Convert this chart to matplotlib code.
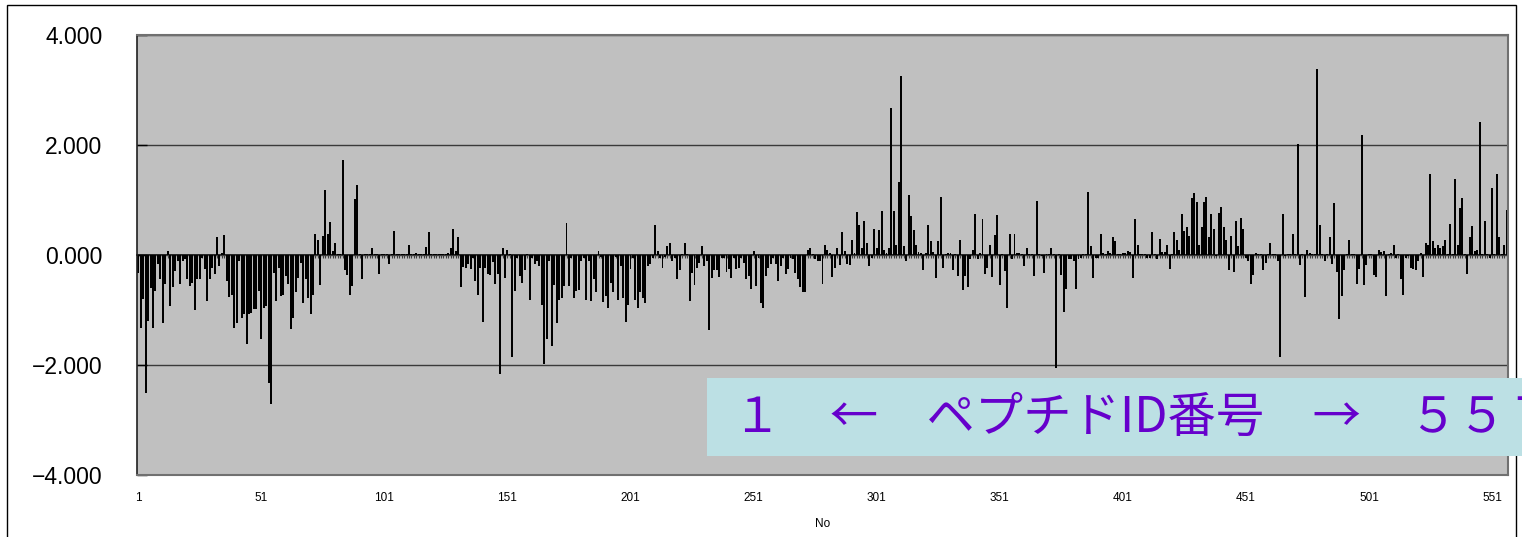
import numpy as np
import matplotlib
matplotlib.use("Agg")
import matplotlib.pyplot as plt
from matplotlib.patches import Rectangle

plt.rcParams['font.family'] = ['Liberation Sans', 'Noto Sans CJK JP', 'DejaVu Sans']

# スコア (ペプチドID 1 ～ 557)
scores_001 = [-0.32, -1.32, -0.80, -2.50, -1.20, -0.60, -1.32, -0.65, -0.17, -0.44,
              -1.23, -0.53, 0.07, -0.93, -0.59, -0.29, -0.11, -0.52, -0.11, -0.08,
              -0.44, -0.56, -0.50, -1.00, -0.44, -0.44, -0.05, -0.26, -0.84, -0.44,
              -0.23, -0.35, 0.32, -0.20, 0.04, 0.36, -0.47, -0.76, -0.72, -1.32,
              -1.23, -0.11, -1.14, -1.08, -1.62, -1.08, -1.05, -0.99, -0.99, -0.65,
              -1.53, -0.96, -0.93, -2.32]
scores_055 = [-2.70, -0.32, -0.84, -0.23, -0.75, -0.72, -0.38, -0.52, -1.35, -1.14,
              -0.68, -0.41, -0.14, -0.87, -0.44, -0.79, -1.08, -0.72, 0.38, 0.28,
              -0.55, 0.35, 1.19, 0.38, 0.60, 0.07, 0.21, 0.02, 0.02, 1.73,
              -0.28, -0.36, -0.72, -0.56, 1.01, 1.28, 0.02, -0.44, 0.02, 0.02,
              0.02, 0.12, 0.02, 0.02, -0.35, 0.02, 0.02, 0.02, -0.17, 0.02,
              0.44, 0.02, 0.02, 0.02, 0.02, 0.02]
scores_111 = [0.19, 0.02, 0.02, 0.03, 0.02, 0.02, 0.02, 0.15, 0.42, 0.02,
              0.02, 0.02, 0.02, 0.02, 0.02, 0.02, 0.04, 0.13, 0.47, 0.08,
              0.33, -0.59, -0.22, -0.24, -0.16, -0.26, -0.05, -0.47, -0.73, -0.23,
              -1.21, -0.23, -0.35, -0.36, -0.12, -0.52, -0.34, -2.17, 0.12, -0.42,
              0.09, 0.02, -1.85, -0.65, -0.05, -0.38, -0.50, -0.28, 0.02, -0.81,
              -0.05, -0.17, -0.11, -0.20, -0.90, -1.98]
scores_167 = [-1.53, -0.11, -1.65, -0.55, -1.24, -0.81, -0.79, -0.56, 0.58, -0.56,
              -0.05, -0.79, -0.65, -0.64, -0.11, -0.05, -0.81, -0.11, -0.84, -0.44,
              -0.67, 0.08, -0.03, -0.85, -0.75, -0.97, -0.50, -0.67, -0.03, -0.81,
              -0.20, -0.79, -1.21, -0.91, -0.26, -0.05, -0.82, -0.97, -0.68, -0.79,
              -0.87, -0.20, -0.16, -0.06, 0.55, 0.07, -0.05, -0.23, -0.03, 0.16,
              0.22, -0.11, -0.05, -0.44, -0.28, 0.02]
scores_223 = [0.22, 0.02, -0.84, -0.32, -0.55, -0.24, -0.14, 0.16, -0.20, -0.11,
              -1.37, -0.42, -0.28, -0.28, -0.40, -0.05, -0.06, -0.30, -0.26, -0.41,
              -0.05, -0.26, -0.23, -0.05, -0.14, -0.44, -0.38, -0.62, 0.08, -0.56,
              -0.05, -0.88, -0.97, -0.38, -0.23, -0.17, -0.06, -0.17, -0.47, -0.20,
              -0.05, -0.35, -0.26, -0.05, -0.08, -0.32, -0.44, -0.59, -0.68, -0.68,
              0.10, 0.13, 0.02, -0.08, -0.11]
scores_278 = [-0.11, -0.52, 0.19, 0.10, 0.03, -0.40, -0.23, 0.13, -0.18, 0.42,
              0.08, -0.16, -0.18, 0.27, 0.04, 0.79, 0.55, 0.12, 0.62, 0.21,
              -0.20, -0.05, 0.48, 0.13, 0.45, 0.80, 0.10, 0.04, 0.13, 2.68,
              0.80, 0.18, 1.32, 3.25, 0.16, -0.11, 1.09, 0.71, 0.45, 0.19,
              0.06, 0.04, -0.28, 0.04, 0.55, 0.25, 0.06, -0.42, 0.25, 1.05,
              -0.23, 0.02, 0.04, 0.04, -0.28, 0.02, -0.38]
scores_335 = [0.27, -0.64, -0.38, -0.58, -0.08, 0.10, 0.74, -0.08, 0.04, 0.66,
              -0.35, -0.24, 0.19, -0.40, 0.36, 0.72, -0.55, 0.02, -0.29, -0.96,
              0.39, -0.08, 0.38, 0.04, 0.04, 0.02, -0.20, 0.12, 0.02, 0.02,
              -0.39, 0.98, 0.02, -0.02, -0.32, 0.02, 0.02, 0.12, 0.02, -2.05,
              0.02, -0.36, -1.03, -0.62, -0.08, -0.08, -0.11, -0.62, -0.08, -0.05,
              0.01, 0.01, 1.15, 0.16, -0.41]
scores_390 = [-0.05, -0.05, 0.38, 0.04, 0.02, 0.07, 0.04, 0.33, 0.25, 0.02,
              0.02, 0.04, 0.04, 0.08, 0.06, -0.42, 0.65, 0.18, 0.02, 0.01,
              0.02, -0.06, -0.06, 0.42, 0.02, -0.07, 0.30, 0.06, 0.06, 0.19,
              -0.26, 0.02, 0.41, 0.28, 0.10, 0.75, 0.44, 0.51, 0.35, 1.04,
              1.12, 0.97, 0.18, 0.51, 0.97, 1.05, 0.33, 0.75, 0.48, -0.02,
              0.77, 0.88, 0.51, 0.27, -0.28, 0.35, -0.30, 0.62]
scores_448 = [0.16, 0.68, 0.48, -0.05, -0.11, -0.52, -0.36, 0.04, 0.02, 0.02,
              -0.28, -0.14, 0.02, 0.21, 0.02, 0.02, -0.10, -1.85, 0.75, -0.02,
              0.01, 0.01, 0.39, 0.01, 2.02, -0.18, 0.02, -0.76, 0.10, 0.04,
              0.02, 0.02, 3.38, 0.55, 0.02, -0.11, 0.02, 0.33, -0.16, 0.95,
              -0.30, -1.17, -0.75, -0.28, 0.02, 0.27, 0.02, 0.02, -0.52, -0.26,
              2.19, -0.55, -0.18, 0.01, 0.02]
scores_503 = [-0.36, -0.40, 0.10, 0.06, 0.08, -0.75, 0.02, 0.04, 0.19, -0.05,
              0.02, -0.44, -0.73, -0.05, -0.01, -0.24, -0.26, -0.28, -0.11, 0.04,
              -0.40, 0.21, 0.18, 1.48, 0.25, 0.12, 0.18, 0.13, 0.16, 0.27,
              0.02, 0.57, 0.02, 1.39, 0.19, 0.85, 1.03, 0.02, -0.35, 0.32,
              0.53, 0.08, 0.10, 2.42, 0.02, 0.62, 0.02, -0.05, 1.22, 0.02,
              1.48, 0.32, 0.02, 0.18, 0.81]

scores = np.array(scores_001 + scores_055 + scores_111 + scores_167 + scores_223
                  + scores_278 + scores_335 + scores_390 + scores_448 + scores_503)
peptide_no = np.arange(1, len(scores) + 1)

x_ticks = list(range(1, 557, 50))
y_ticks = [-4, -2, 0, 2, 4]
note_text = "１　←　ペプチドID番号　→　５５７"

W, H = 1522, 537
fig = plt.figure(figsize=(W / 100, H / 100), dpi=100)
fig.patch.set_facecolor("white")

# 外枠
fig.patches.append(Rectangle((7 / W, -0.02), (1516 - 7) / W, 1 - 5 / H + 0.02,
                             transform=fig.transFigure, fill=False,
                             edgecolor="black", lw=1.0, zorder=0))

ax = fig.add_axes([137 / W, 1 - 475 / H, (1508 - 137) / W, (475 - 35) / H])
ax.set_facecolor("#C0C0C0")
ax.bar(peptide_no, scores, width=0.8, color="black", zorder=2)

ax.set_xlim(0.5, len(scores) + 0.5)
ax.set_ylim(-4, 4)
ax.set_yticks(y_ticks)
ax.set_yticklabels(["{:.3f}".format(v).replace("-", "\u2212") for v in y_ticks],
                   fontsize=16.5)
ax.tick_params(axis="y", direction="in", length=7, width=1, pad=25, color="black")
ax.yaxis.grid(True, color="#3a3a3a", lw=1)
ax.set_axisbelow(True)

ax.set_xticks(x_ticks)
ax.set_xticklabels([str(v) for v in x_ticks], fontsize=8.5)
ax.tick_params(axis="x", length=0, pad=12)
ax.set_xlabel("No", fontsize=8.5, labelpad=10)

for side in ["top", "right", "bottom"]:
    ax.spines[side].set_color("#707070")
    ax.spines[side].set_linewidth(1.5)
ax.spines["left"].set_color("#202020")
ax.spines["left"].set_linewidth(1.2)

# 0 の位置の項目軸 (目盛りは各ID)
zero_axis = ax.secondary_xaxis(0.5)
zero_axis.set_xticks(peptide_no)
zero_axis.tick_params(axis="x", direction="in", length=2.5, width=0.8,
                      color="#404040", labelbottom=False, labeltop=False)
for side in zero_axis.spines:
    zero_axis.spines[side].set_color("black")
    zero_axis.spines[side].set_linewidth(1.2)

# 注記ボックス (右端で切れる)
fig.patches.append(Rectangle((707 / W, 1 - 456 / H), (W - 707 + 20) / W, 78 / H,
                             transform=fig.transFigure, facecolor="#BCE0E4",
                             edgecolor="none", zorder=5))
fig.text(733 / W, 1 - 418 / H, note_text, fontsize=34.8, color="#6600CC",
         family=["Noto Sans CJK JP", "DejaVu Sans"], va="center", ha="left", zorder=6)

fig.savefig("out.png", dpi=100)
